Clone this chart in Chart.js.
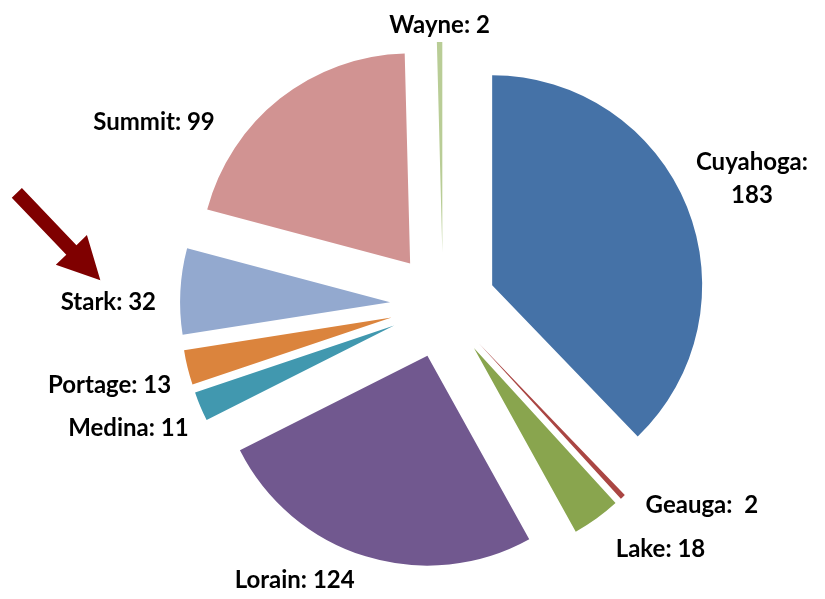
<!DOCTYPE html>
<html>
<head>
<meta charset="utf-8">
<script src="https://cdn.jsdelivr.net/npm/chart.js@4.4.1/dist/chart.umd.min.js"></script>
<style>
    html, body { margin: 0; padding: 0; background: #ffffff; }
    #wrap { position: relative; width: 825px; height: 599px; }
</style>
</head>
<body>
<div id="wrap"><canvas id="countyChart"></canvas></div>
<script>
// Data
const counties = ['Cuyahoga', 'Geauga', 'Lake', 'Lorain', 'Medina', 'Portage', 'Stark', 'Summit', 'Wayne'];
const counts = [183, 2, 18, 124, 11, 13, 32, 99, 2];
const sliceColors = ['#4572A7', '#AA4643', '#89A54E', '#71588F', '#4198AF', '#DB843D', '#93A9CF', '#D19392', '#B9CD96'];

// Label text separators and nudges from the outer edge of each exploded slice
const labelSep = ['\n', '  ', ' ', ' ', ' ', ' ', ' ', ' ', ' '];
const labelNudge = [[65, -4], [79, 16], [64, 38], [-71, 32], [-72, 30], [-78, 25], [-72, 19], [-126, 31], [0, -9]];

const EXPLODE = 53;
const LABEL_FONT = 'bold 24px Lato, "Liberation Sans", sans-serif';
const LINE_GAP = 33;

document.addEventListener('DOMContentLoaded', function() {
    // Draw each slice pulled out along its middle angle
    const explodePlugin = {
        id: 'explode',
        beforeDatasetDraw(chart, args) {
            const ctx = chart.ctx;
            args.meta.data.forEach((arc) => {
                const mid = (arc.startAngle + arc.endAngle) / 2;
                ctx.save();
                ctx.translate(Math.cos(mid) * EXPLODE, Math.sin(mid) * EXPLODE);
                arc.draw(ctx);
                ctx.restore();
            });
            return false;
        }
    };

    // Outside labels plus the red arrow pointing at Stark
    const labelPlugin = {
        id: 'sliceLabels',
        afterDraw(chart) {
            const ctx = chart.ctx;
            const meta = chart.getDatasetMeta(0);
            ctx.save();
            ctx.font = LABEL_FONT;
            ctx.fillStyle = '#000000';
            ctx.textAlign = 'center';
            ctx.textBaseline = 'alphabetic';
            let starkPos = null;
            meta.data.forEach((arc, i) => {
                const mid = (arc.startAngle + arc.endAngle) / 2;
                const dist = arc.outerRadius + EXPLODE;
                const x = arc.x + Math.cos(mid) * dist + labelNudge[i][0];
                const y = arc.y + Math.sin(mid) * dist + labelNudge[i][1];
                const lines = (counties[i] + ':' + labelSep[i] + counts[i]).split('\n');
                lines.forEach((line, k) => {
                    ctx.fillText(line, x, y - (lines.length - 1 - k) * LINE_GAP);
                });
                if (counties[i] === 'Stark') starkPos = { x: x, y: y };
            });

            if (starkPos) {
                const tipX = starkPos.x - 8;
                const tipY = starkPos.y - 30;
                ctx.translate(tipX, tipY);
                ctx.rotate(Math.atan2(87, 83));
                ctx.fillStyle = '#7F0000';
                ctx.beginPath();
                ctx.moveTo(0, 0);
                ctx.lineTo(-42, -21.5);
                ctx.lineTo(-42, -7);
                ctx.lineTo(-121, -7);
                ctx.lineTo(-121, 7);
                ctx.lineTo(-42, 7);
                ctx.lineTo(-42, 21.5);
                ctx.closePath();
                ctx.fill();
            }
            ctx.restore();
        }
    };

    const ctx = document.getElementById('countyChart').getContext('2d');
    new Chart(ctx, {
        type: 'pie',
        data: {
            labels: counties,
            datasets: [{
                data: counts,
                backgroundColor: sliceColors,
                borderWidth: 0
            }]
        },
        options: {
            responsive: true,
            maintainAspectRatio: false,
            animation: false,
            layout: {
                padding: { left: 233, right: 172, top: 95, bottom: 84 }
            },
            plugins: {
                legend: { display: false },
                tooltip: { enabled: false }
            }
        },
        plugins: [explodePlugin, labelPlugin]
    });
});
</script>
</body>
</html>
